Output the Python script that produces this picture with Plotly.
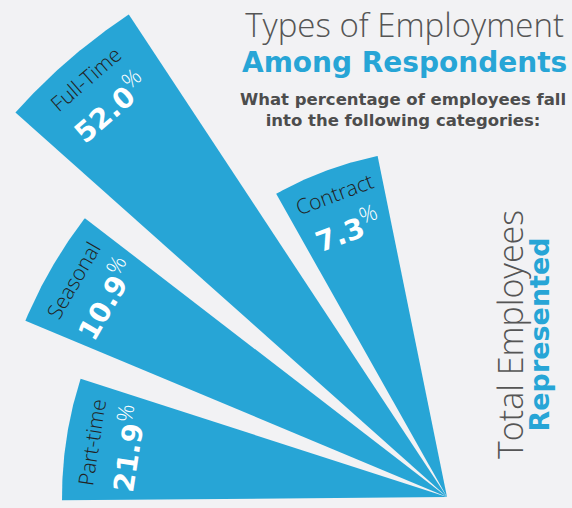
import numpy as np
import plotly.graph_objects as go

# ---- data ----
categories = ["Part-time", "Seasonal", "Full-Time", "Contract"]
percent_values = [21.9, 10.9, 52.0, 7.3]
wedge_radius = [385, 457, 578, 348]          # radial length of each wedge (axis units)

# ---- angular layout of the fan (degrees, counter-clockwise from +x) ----
wedge_start = [162.1, 142.4, 123.4, 101.5]
wedge_end = [180.5, 157.3, 138.3, 119.4]

BLUE = "#27a5d6"
BG = "#f2f2f4"
GRAY = "#555555"
LIGHT = "Open Sans"
BOLD = "DejaVu Sans"

fig = go.Figure()

for cat, r, a0, a1 in zip(categories, wedge_radius, wedge_start, wedge_end):
    th = np.radians(np.linspace(a0, a1, 80))
    xs = np.concatenate([[0], r * np.cos(th), [0]])
    ys = np.concatenate([[0], r * np.sin(th), [0]])
    fig.add_trace(go.Scatter(x=xs, y=ys, mode="lines", fill="toself",
                             fillcolor=BLUE, line=dict(width=0, color=BLUE),
                             name=cat, hoverinfo="name"))

annotations = []
for cat, val, r, a0, a1 in zip(categories, percent_values, wedge_radius, wedge_start, wedge_end):
    tc = (a0 + a1) / 2
    t = np.radians(tc)
    rl = r - 25
    rv = r - 60
    annotations.append(dict(x=rl * np.cos(t), y=rl * np.sin(t), xref="x", yref="y",
                            text=cat, showarrow=False, textangle=90 - tc,
                            font=dict(family=LIGHT, size=21, color="#222222", weight=300),
                            xanchor="center", yanchor="middle"))
    annotations.append(dict(x=rv * np.cos(t), y=rv * np.sin(t), xref="x", yref="y",
                            text=f"{val:.1f}<sup><span style='font-family:Open Sans;font-weight:300;font-size:22px'>%</span></sup>",
                            showarrow=False, textangle=90 - tc,
                            font=dict(family=BOLD, size=28, color="white", weight="bold"),
                            xanchor="center", yanchor="middle"))

W, H = 572, 508
def px(x, y):
    return x / W, 1 - y / H

title_text = ("<span style='font-family:Open Sans;font-weight:300;font-size:33px;color:#555555'>"
              "Types of Employment</span><br>"
              f"<span style='font-family:DejaVu Sans;font-weight:bold;font-size:28px;color:{BLUE}'>"
              "Among Respondents</span>")
sub_text = "What percentage of employees fall<br>into the following categories:"
side_text = ("<span style='font-family:Open Sans;font-weight:300;font-size:34px;color:#555555'>"
             "Total Employees</span><br>"
             f"<span style='font-family:DejaVu Sans;font-weight:bold;font-size:27px;color:{BLUE}'>"
             "Represented</span>")

blocks = [
    (title_text, 404, 0, "top", dict(family=BOLD, size=27, color=GRAY), 0),
    (sub_text, 403, 110, "middle", dict(family=BOLD, size=16.5, color="#4d4d4d", weight="bold"), 0),
    (side_text, 521, 335, "middle", dict(family=BOLD, size=20, color=GRAY), -90),
]
for txt, x, y, ya, f, ang in blocks:
    xp, yp = px(x, y)
    annotations.append(dict(x=xp, y=yp, xref="paper", yref="paper", text=txt,
                            showarrow=False, font=f, textangle=ang, align="center",
                            xanchor="center", yanchor=ya))

fig.update_layout(
    width=W, height=H, margin=dict(l=0, r=0, t=0, b=0),
    paper_bgcolor=BG, plot_bgcolor=BG, showlegend=False,
    xaxis=dict(range=[-447, 125], visible=False, fixedrange=True),
    yaxis=dict(range=[-11, 497], visible=False, fixedrange=True),
    annotations=annotations,
)

fig.write_html("out.html", config={"displayModeBar": False},
               post_script="document.body.style.margin='0';")
